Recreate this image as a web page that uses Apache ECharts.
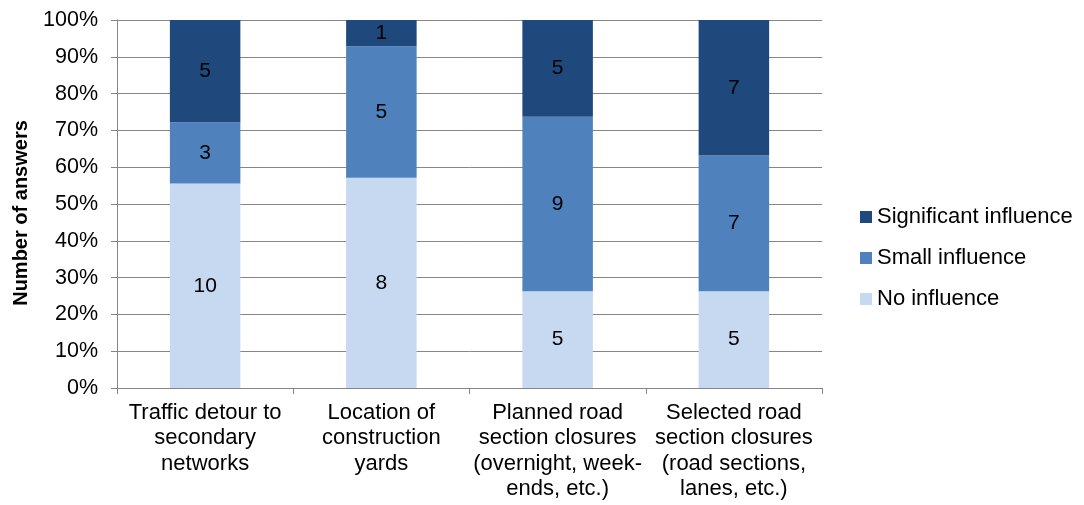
<!DOCTYPE html>
<html>
<head>
<meta charset="utf-8">
<script src="https://cdn.jsdelivr.net/npm/echarts@6/dist/echarts.min.js"></script>
<style>
  html, body { margin: 0; padding: 0; background: #fff; }
  #chart { width: 1084px; height: 505px; }
</style>
</head>
<body>
<div id="chart"></div>
<script>
// Survey answers per measure (counts of respondents)
const categories = [
  'Traffic detour to\nsecondary\nnetworks',
  'Location of\nconstruction\nyards',
  'Planned road\nsection closures\n(overnight, week-\nends, etc.)',
  'Selected road\nsection closures\n(road sections,\nlanes, etc.)'
];
const noInfluence = [10, 8, 5, 5];
const smallInfluence = [3, 5, 9, 7];
const significantInfluence = [5, 1, 5, 7];
const yTicks = [0, 10, 20, 30, 40, 50, 60, 70, 80, 90, 100];

const totals = categories.map((_, i) => noInfluence[i] + smallInfluence[i] + significantInfluence[i]);
const toShare = arr => arr.map((v, i) => ({ value: v / totals[i] * 100, count: v }));

const font = '"Liberation Sans", Arial, sans-serif';
const colors = ['#C6D9F1', '#4F81BD', '#1F497D'];

function barSeries(name, arr, color) {
  return {
    name, type: 'bar', stack: 'total', barWidth: '40%',
    data: toShare(arr),
    itemStyle: { color },
    label: {
      show: true, position: 'inside', color: '#000',
      fontFamily: font, fontSize: 21,
      formatter: p => p.data.count
    }
  };
}

const chart = echarts.init(document.getElementById('chart'));
chart.setOption({
  animation: false,
  textStyle: { fontFamily: font },
  grid: { left: 117, right: 262, top: 20, bottom: 117, containLabel: false, outerBoundsMode: 'none' },
  legend: {
    orient: 'vertical', left: 855, top: 201,
    itemWidth: 12, itemHeight: 12, itemGap: 19,
    icon: 'rect',
    data: ['Significant influence', 'Small influence', 'No influence'],
    textStyle: { fontFamily: font, fontSize: 22, color: '#000' }
  },
  xAxis: {
    type: 'category', data: categories,
    axisLine: { lineStyle: { color: '#868686', width: 1 } },
    axisTick: { show: true, length: 6, lineStyle: { color: '#868686' }, alignWithLabel: false },
    axisLabel: { color: '#000', fontFamily: font, fontSize: 22, lineHeight: 25.5, margin: 12, interval: 0 }
  },
  yAxis: {
    type: 'value', min: 0, max: 100, interval: 10,
    name: 'Number of answers', nameLocation: 'middle', nameGap: 86,
    nameTextStyle: { color: '#000', fontFamily: font, fontSize: 20, fontWeight: 'bold', padding: [0, 18, 0, 0] },
    axisLine: { show: true, lineStyle: { color: '#868686' } },
    axisTick: { show: true, length: 6, lineStyle: { color: '#868686' } },
    splitLine: { lineStyle: { color: '#868686', width: 1 } },
    axisLabel: {
      color: '#000', fontFamily: font, fontSize: 21.5, margin: 19,
      formatter: v => yTicks.includes(v) ? v + '%' : ''
    }
  },
  series: [
    barSeries('No influence', noInfluence, colors[0]),
    barSeries('Small influence', smallInfluence, colors[1]),
    barSeries('Significant influence', significantInfluence, colors[2])
  ]
});
</script>
</body>
</html>
